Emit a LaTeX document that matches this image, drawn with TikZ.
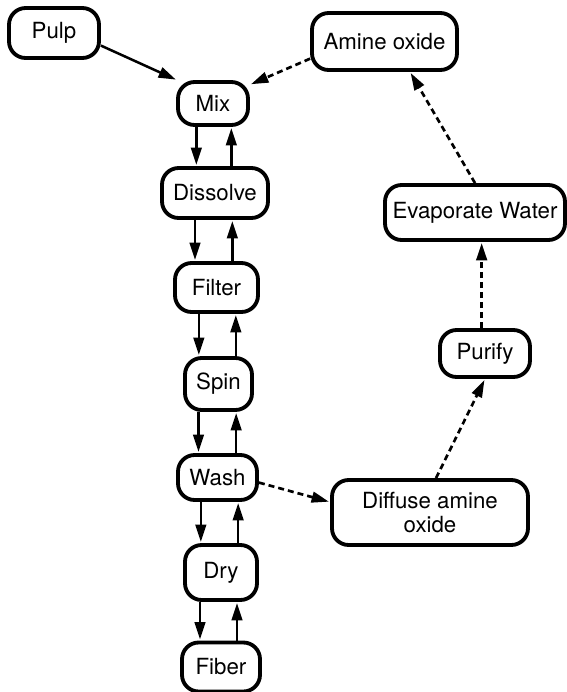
\documentclass[tikz,border=0pt]{standalone}
\usepackage{fontspec}
\setmainfont{TeX Gyre Heros}
\usetikzlibrary{arrows.meta}
\tikzset{
	proc/.style={draw, line width=1.15mm, rounded corners=0.5cm, align=center, inner sep=0pt, font=\fontsize{19}{21}\selectfont},
	flow/.style={line width=0.75mm, -{Triangle[length=0.52cm,width=0.32cm]}, shorten >=1pt},
	recycle/.style={flow, line width=0.8mm, dash pattern=on 0.18cm off 0.12cm}
}

\begin{document}
\begin{tikzpicture}[x=0.03cm, y=-0.03cm]
			%%%%% START %%%%%
			\useasboundingbox (0, 0) rectangle (567, 692);
			
			\node[proc, minimum width=2.7cm, minimum height=1.5cm] (pulp) at (54, 33) {Pulp};
			\node[proc, minimum width=4.35cm, minimum height=1.71cm] (amine) at (384.5, 41.5) {Amine oxide};
			
			\node[proc, minimum width=2.1cm, minimum height=1.29cm] (mix) at (213, 103.5) {Mix};
			\node[proc, minimum width=3.18cm, minimum height=1.5cm] (dissolve) at (215, 193) {Dissolve};
			\node[proc, minimum width=2.49cm, minimum height=1.47cm] (filter) at (216.5, 287.5) {Filter};
			\node[proc, minimum width=2.01cm, minimum height=1.56cm] (spin) at (218.5, 384) {Spin};
			\node[proc, minimum width=2.37cm, minimum height=1.35cm] (wash) at (217.5, 477.5) {Wash};
			\node[proc, minimum width=2.16cm, minimum height=1.65cm] (dry) at (221, 572.5) {Dry};
			\node[proc, minimum width=2.34cm, minimum height=1.47cm] (fiber) at (221, 667) {Fiber};
			
			\node[proc, minimum width=5.4cm, minimum height=1.65cm] (evaporate) at (475, 212.5) {Evaporate Water};
			\node[proc, minimum width=2.7cm, minimum height=1.41cm] (purify) at (485, 353.5) {Purify};
			\node[proc, minimum width=5.88cm, minimum height=1.95cm] (diffuse) at (430, 512.5) {Diffuse amine\\oxide};
			
			\draw[flow] (pulp.-15) -- (mix.147);
			
			\draw[flow] ([xshift=-0.5cm]mix.south) -- ([xshift=-0.5cm]mix.south |- dissolve.north);
			\draw[flow] ([xshift=0.55cm]mix.south |- dissolve.north) -- ([xshift=0.55cm]mix.south);
			\draw[flow] ([xshift=-0.6cm]dissolve.south) -- ([xshift=-0.6cm]dissolve.south |- filter.north);
			\draw[flow] ([xshift=0.52cm]dissolve.south |- filter.north) -- ([xshift=0.52cm]dissolve.south);
			\draw[flow] ([xshift=-0.53cm]filter.south) -- ([xshift=-0.53cm]filter.south |- spin.north);
			\draw[flow] ([xshift=0.58cm]filter.south |- spin.north) -- ([xshift=0.58cm]filter.south);
			\draw[flow] ([xshift=-0.6cm]spin.south) -- ([xshift=-0.6cm]spin.south |- wash.north);
			\draw[flow] ([xshift=0.53cm]spin.south |- wash.north) -- ([xshift=0.53cm]spin.south);
			\draw[flow] ([xshift=-0.5cm]wash.south) -- ([xshift=-0.5cm]wash.south |- dry.north);
			\draw[flow] ([xshift=0.62cm]wash.south |- dry.north) -- ([xshift=0.62cm]wash.south);
			\draw[flow] ([xshift=-0.63cm]dry.south) -- ([xshift=-0.63cm]dry.south |- fiber.north);
			\draw[flow] ([xshift=0.48cm]dry.south |- fiber.north) -- ([xshift=0.48cm]dry.south);
			
			\draw[recycle] (wash.-7) -- (diffuse.174);
			\draw[recycle] (diffuse.80) -- (purify.south);
			\draw[recycle] ([xshift=-0.1cm]purify.north) -- ([xshift=-0.1cm]purify.north |- evaporate.south);
			\draw[recycle] (evaporate.north) -- (amine.-50);
			\draw[recycle] (amine.193) -- (mix.27);
			
			%%%%% END %%%%%
\end{tikzpicture}
\end{document}
